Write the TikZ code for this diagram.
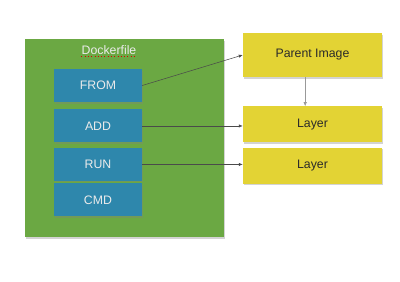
\documentclass[tikz,border=0pt]{standalone}
\usepackage{fontspec}
\setmainfont{Liberation Sans}
\usepackage{tikz}
\usetikzlibrary{arrows.meta,positioning,shadows}
\definecolor{filegreen}{HTML}{6BA843}
\definecolor{stepblue}{HTML}{2E87AC}
\definecolor{layeryellow}{HTML}{E3D334}
\definecolor{ink}{HTML}{2A2A2A}
\tikzset{
  boxshadow/.style={
    drop shadow={opacity=0.35, shadow xshift=0.35mm, shadow yshift=-0.45mm}
  },
  filebox/.style={
    rectangle,
    fill=filegreen,
    minimum width=59.7mm,
    minimum height=59.4mm,
    inner sep=0pt,
    boxshadow
  },
  instr/.style={
    rectangle,
    fill=stepblue,
    text=white!92!black,
    minimum width=26.4mm,
    minimum height=9.9mm,
    inner sep=0pt,
    boxshadow
  },
  layerbox/.style={
    rectangle,
    fill=layeryellow,
    text=ink,
    minimum width=41.7mm,
    minimum height=10.8mm,
    inner sep=0pt,
    boxshadow
  },
  link/.style={
    -{Latex[length=1.2mm,width=1.0mm]},
    draw=ink!85,
    line width=0.45pt
  }
}

\begin{document}
\begin{tikzpicture}[
  x=0.3mm, y=-0.3mm,
  font=\fontsize{10.5}{12}\selectfont
]
\useasboundingbox (0,0) rectangle (400,282);

% ---- Dockerfile and its instructions ----
\node[filebox] (dockerfile) at (124.5,138) {};
\node[text=white!92!black, inner sep=0pt] (title) at (109,50) {Dockerfile};
\draw[red!85!black, dotted, line width=0.8pt]
  ([yshift=-1.6pt]title.base west) -- ([yshift=-1.6pt]title.base east);

\node[instr] (from) at (98,85.5) {FROM};
\node[instr, below=2.1mm of from] (add) {ADD};
\node[instr, below=1.5mm of add] (run) {RUN};
\node[instr, below=0.6mm of run] (cmd) {CMD};

% ---- Image layers ----
\node[layerbox, minimum height=13.2mm] (parent) at (312.5,55) {Parent Image};
\node[layerbox, below=8.7mm of parent] (layer1) {Layer};
\node[layerbox, below=1.5mm of layer1] (layer2) {Layer};

% ---- Flow ----
\draw[link] (from.east) -- (parent.west);
\draw[link] (add.east) -- (add.east -| layer1.west);
\draw[link] (run.east) -- (run.east -| layer2.west);
\draw[link, draw=black!40] ([xshift=-2.2mm]parent.south) -- ([xshift=-2.2mm]layer1.north);

\end{tikzpicture}
\end{document}
